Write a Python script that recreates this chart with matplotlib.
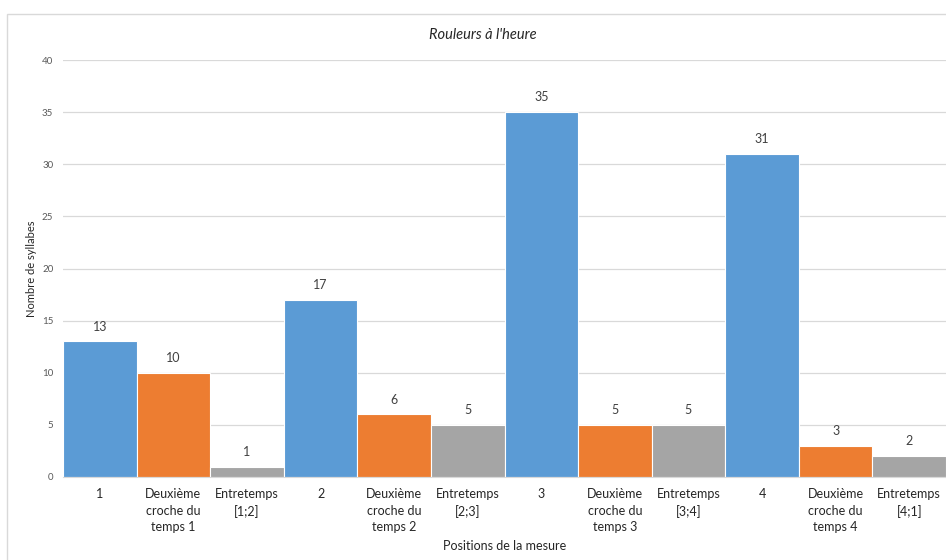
import matplotlib.pyplot as plt
from matplotlib.patches import Rectangle

plt.rcParams['font.family'] = ['Lato', 'DejaVu Sans']

categories = ['1', 'Deuxième\ncroche du\ntemps 1', 'Entretemps\n[1;2]',
              '2', 'Deuxième\ncroche du\ntemps 2', 'Entretemps\n[2;3]',
              '3', 'Deuxième\ncroche du\ntemps 3', 'Entretemps\n[3;4]',
              '4', 'Deuxième\ncroche du\ntemps 4', 'Entretemps\n[4;1]']
values = [13, 10, 1, 17, 6, 5, 35, 5, 5, 31, 3, 2]
palette = ['#5B9BD5', '#ED7D31', '#A5A5A5']
colors = [palette[i % 3] for i in range(len(values))]

fig = plt.figure(figsize=(9.46, 5.6), dpi=100)
ax = fig.add_axes([63 / 946, 1 - 477 / 560, 883 / 946, 417 / 560])

x = range(len(values))
ax.bar(x, values, width=1.0, color=colors, edgecolor='white', linewidth=0.8, zorder=2)
for xi, v in zip(x, values):
    ax.text(xi, v + 0.85, str(v), ha='center', va='bottom', fontsize=9, color='#404040')

ax.set_xlim(-0.5, len(values) - 0.5)
ax.set_ylim(0, 40)
ax.set_yticks(range(0, 41, 5))
ax.tick_params(axis='y', labelsize=7, colors='#595959', length=0, pad=7)
ax.set_xticks(list(x))
ax.set_xticklabels(categories, fontsize=9, color='#262626', linespacing=1.45)
ax.tick_params(axis='x', length=0, pad=8)
ax.yaxis.grid(True, color='#D9D9D9', linewidth=0.9, zorder=0)
ax.set_axisbelow(True)
for s in ['top', 'right', 'left']:
    ax.spines[s].set_visible(False)
ax.spines['bottom'].set_color('#D9D9D9')

fig.text(483 / 946, 1 - 35 / 560, "Rouleurs à l'heure", fontsize=10.5, style='italic',
         color='#262626', ha='center', va='center')
ax.set_ylabel('Nombre de syllabes', fontsize=8, color='#262626')
ax.yaxis.set_label_coords(-0.03, 0.5)
ax.set_xlabel('Positions de la mesure', fontsize=9, color='#262626', labelpad=5)

fig.patches.append(Rectangle((7 / 946, -0.05), 1.1, 1 - 14 / 560 + 0.05, transform=fig.transFigure,
                             fill=False, edgecolor='#D9D9D9', linewidth=1))

fig.savefig('out.png', dpi=100)
